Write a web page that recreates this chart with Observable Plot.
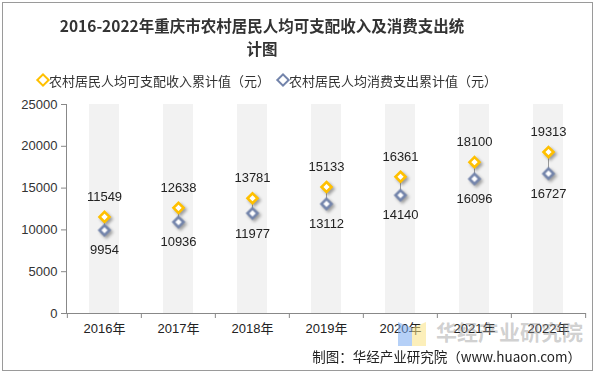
<!DOCTYPE html>
<html>
<head>
<meta charset="utf-8">
<script src="https://cdn.jsdelivr.net/npm/d3@7"></script>
<script src="https://cdn.jsdelivr.net/npm/@observablehq/plot@0.6"></script>
<style>
  html, body { margin: 0; padding: 0; background: #fff; }
  #wrap { position: relative; width: 597px; height: 376px; overflow: hidden; font-family: "Liberation Sans", Arial, "Noto Sans CJK SC", sans-serif; color: #333; }
  #border { position: absolute; left: 2px; top: 2px; width: 589px; height: 367px; border: 1px solid #9a9a9a; }
  #title { position: absolute; left: 0; top: 14px; width: 524px; text-align: center; font-family: "Noto Sans CJK SC", serif; font-weight: bold; font-size: 15.5px; line-height: 23px; color: #333; }
  #legend { position: absolute; left: 38px; top: 72px; text-align: left; font-family: "Noto Sans CJK SC", sans-serif; font-size: 13px; line-height: 18px; color: #333; white-space: nowrap; }
  .sw { display: inline-block; width: 6px; height: 6px; border: 2px solid; background: #fff; transform: rotate(45deg); margin-right: 1px; vertical-align: 1px; }
  #caption { position: absolute; right: 16px; top: 347px; font-family: "Noto Sans CJK SC", sans-serif; font-size: 13.5px; line-height: 18px; color: #222; }
  #wm { position: absolute; left: 436px; top: 316px; font-family: "Noto Sans CJK SC", sans-serif; font-weight: bold; font-size: 21px; color: rgba(150,150,150,0.45); }
  #logo1 { position: absolute; left: 398px; top: 322px; width: 14px; height: 24px; background: rgba(120,170,240,0.55); clip-path: polygon(0 0, 100% 25%, 100% 100%, 0 100%); }
  #logo2 { position: absolute; left: 412px; top: 322px; width: 14px; height: 24px; background: rgba(250,225,130,0.55); clip-path: polygon(0 25%, 100% 0, 100% 100%, 0 100%); }
  #chart { position: absolute; left: 0; top: 0; }
</style>
</head>
<body>
<div id="wrap">
  <div id="chart"></div>
  <div id="logo1"></div><div id="logo2"></div>
  <div id="wm">华经产业研究院</div>
  <div id="border"></div>
  <div id="title">2016-2022年重庆市农村居民人均可支配收入及消费支出统<br>计图</div>
  <div id="legend"></div>
  <div id="caption">制图：华经产业研究院（www.huaon.com）</div>
</div>
<script>
const years = ["2016年", "2017年", "2018年", "2019年", "2020年", "2021年", "2022年"];
const income = [11549, 12638, 13781, 15133, 16361, 18100, 19313];
const expense = [9954, 10936, 11977, 13112, 14140, 16096, 16727];
const yTicks = [0, 5000, 10000, 15000, 20000, 25000];
const seriesNames = ["农村居民人均可支配收入累计值（元）", "农村居民人均消费支出累计值（元）"];
const colors = ["#FFC000", "#7384AB"];

const data = years.map((y, i) => ({year: y, inc: income[i], exp: expense[i]}));
const yMax = yTicks[yTicks.length - 1];

const legend = document.getElementById("legend");
legend.innerHTML = seriesNames.map((n, i) =>
  `<span style="margin-right:8px"><span class="sw" style="border-color:${colors[i]}"></span>${n}</span>`).join("");

const bw = (597 - 66 - 11) / years.length;

const plot = Plot.plot({
  width: 597,
  height: 376,
  marginTop: 104,
  marginBottom: 63,
  marginLeft: 66,
  marginRight: 11,
  style: {fontFamily: "'Liberation Sans', Arial, 'Noto Sans CJK SC', sans-serif", fontSize: "13px", color: "#333", background: "transparent"},
  x: {domain: years, padding: 0, label: null},
  y: {domain: [0, yMax], label: null},
  marks: [
    Plot.barY(years, {x: d => d, y: () => yMax, fill: "#f2f2f2", insetLeft: 22, insetRight: 22}),
    Plot.axisY({ticks: yTicks, tickSize: 5, tickPadding: 4, tickFormat: d => String(d), stroke: "#888", fill: "#333", label: null}),
    Plot.axisX({tickSize: 0, tickPadding: 10, fill: "#222", label: null}),
    Plot.axisX({tickSize: 5, dx: -bw / 2, text: null, stroke: "#888", label: null}),
    Plot.axisX({ticks: [years[years.length - 1]], tickSize: 5, dx: bw / 2, text: null, stroke: "#888", label: null}),
    Plot.frame({anchor: "left", stroke: "#888"}),
    Plot.ruleY([0], {stroke: "#888"}),
    Plot.ruleX(data, {x: "year", y1: "exp", y2: "inc", stroke: "#999", strokeWidth: 1}),
    Plot.dot(data, {x: "year", y: "inc", symbol: "diamond2", r: 4.5, stroke: colors[0], strokeWidth: 2.6, fill: "#fff"}),
    Plot.dot(data, {x: "year", y: "exp", symbol: "diamond2", r: 4.5, stroke: colors[1], strokeWidth: 2.6, fill: "#fff"}),
    Plot.text(data, {x: "year", y: "inc", text: d => String(d.inc), dy: -20, fill: "#222", fontSize: 13}),
    Plot.text(data, {x: "year", y: "exp", text: d => String(d.exp), dy: 20, fill: "#222", fontSize: 13})
  ]
});
d3.select(plot).selectAll("g[aria-label=dot]").style("filter", "drop-shadow(2px 2px 1.5px rgba(0,0,0,0.35))");
document.getElementById("chart").appendChild(plot);
</script>
</body>
</html>
